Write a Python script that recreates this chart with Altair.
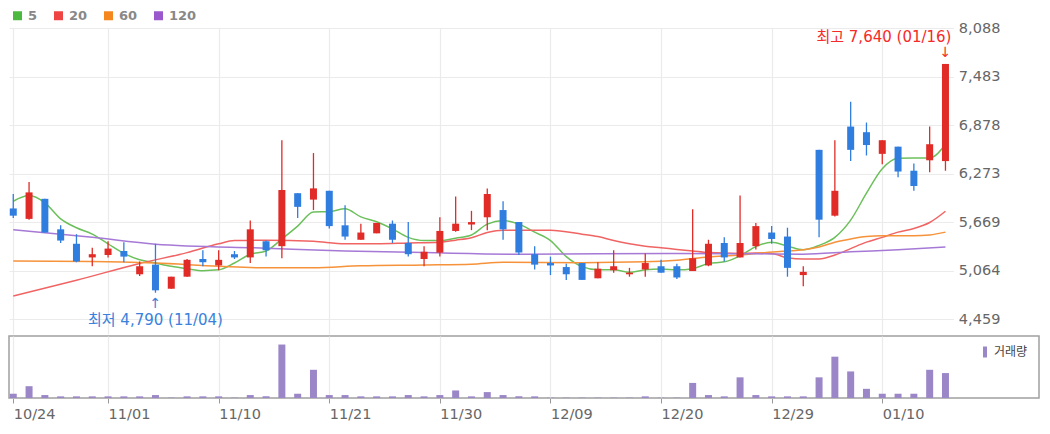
import json
import altair as alt
import pandas as pd

# ---------------- data ----------------
dates = ["10/24", "10/25", "10/26", "10/27", "10/28", "10/31",
         "11/01", "11/02", "11/03", "11/04", "11/07", "11/08", "11/09", "11/10", "11/11",
         "11/14", "11/15", "11/16", "11/17", "11/18", "11/21", "11/22", "11/23", "11/24",
         "11/25", "11/28", "11/29", "11/30",
         "12/01", "12/02", "12/05", "12/06", "12/07", "12/08", "12/09", "12/12", "12/13",
         "12/14", "12/15", "12/16", "12/19", "12/20", "12/21", "12/22", "12/23", "12/26",
         "12/27", "12/28", "12/29",
         "01/02", "01/03", "01/04", "01/05", "01/06", "01/09", "01/10", "01/11", "01/12",
         "01/13", "01/16"]

opens = [5840, 5710, 5960, 5580, 5400, 5230, 5260, 5310, 5020, 5140,
         4840, 4990, 5210, 5130, 5270, 5230, 5430, 5370, 6030, 5950,
         6060, 5630, 5450, 5530, 5650, 5410, 5210, 5290, 5560, 5640,
         5730, 5820, 5670, 5270, 5160, 5110, 5160, 4970, 5070, 5020,
         5080, 5120, 5120, 5060, 5130, 5410, 5230, 5370, 5540, 5490,
         5010, 6570, 5750, 6860, 6790, 6520, 6610, 6310, 6440, 6430]
highs = [6020, 6170, 5960, 5630, 5520, 5350, 5430, 5420, 5180, 5400,
         4990, 5210, 5320, 5320, 5310, 5690, 5440, 6690, 6030, 6530,
         6060, 5880, 5650, 5660, 5690, 5670, 5370, 5730, 5990, 5810,
         6090, 5930, 5670, 5370, 5240, 5150, 5160, 5170, 5320, 5100,
         5280, 5200, 5150, 5830, 5450, 5480, 6000, 5660, 5620, 5600,
         5120, 6570, 6690, 7170, 6910, 6690, 6610, 6400, 6860, 7640]
lows = [5720, 5700, 5540, 5410, 5170, 5120, 5230, 5170, 5000, 4790,
        4840, 4990, 5120, 5070, 5210, 5160, 5240, 5220, 5720, 5820,
        5590, 5450, 5450, 5530, 5410, 5240, 5120, 5240, 5550, 5570,
        5570, 5450, 5260, 5080, 5010, 4950, 4950, 4970, 5040, 4990,
        4990, 5040, 4960, 5060, 5120, 5180, 5230, 5330, 5400, 4990,
        4870, 5480, 5740, 6430, 6500, 6390, 6230, 6060, 6290, 6310]
closes = [5750, 6040, 5540, 5440, 5180, 5270, 5340, 5240, 5120, 4820,
          4990, 5200, 5170, 5200, 5230, 5580, 5320, 6070, 5860, 6090,
          5620, 5490, 5540, 5660, 5450, 5270, 5300, 5560, 5650, 5670,
          6020, 5580, 5290, 5140, 5130, 5020, 4950, 5090, 5120, 5040,
          5160, 5040, 4980, 5220, 5400, 5230, 5410, 5620, 5460, 5100,
          5050, 5700, 6060, 6570, 6630, 6690, 6300, 6120, 6640, 7640]
volumes = [13, 36, 9, 5, 5, 5, 5, 5, 5, 9,
           1, 5, 5, 5, 1, 9, 5, 163, 13, 86,
           9, 9, 5, 5, 5, 9, 5, 9, 23, 5,
           18, 9, 5, 5, 1, 1, 1, 1, 1, 1,
           5, 1, 1, 46, 9, 5, 63, 9, 5, 5,
           5, 63, 126, 81, 28, 13, 13, 13, 86, 76]

ma5 = [5930, 6000, 5910, 5710, 5600, 5520, 5400, 5280, 5200, 5160,
       5120, 5090, 5065, 5075, 5160, 5270, 5310, 5460, 5620, 5795,
       5800, 5835, 5735, 5675, 5585, 5480, 5440, 5440, 5470, 5510,
       5645, 5690, 5645, 5545, 5440, 5240, 5115, 5075, 5075, 5045,
       5075, 5085, 5075, 5090, 5155, 5175, 5250, 5365, 5420, 5370,
       5325, 5380, 5480, 5695, 6030, 6335, 6465, 6470, 6470, 6640]
ma20_idx = [0, 4, 8, 11, 13, 14, 16, 19, 21, 23, 25, 27, 28, 29, 30, 31, 34, 36, 37, 38,
            39, 40, 41, 42, 43, 44, 46, 47, 48, 49, 50, 51, 52, 53, 54, 55, 56, 57, 58, 59]
ma20_val = [4750, 4945, 5155, 5290, 5400, 5440, 5445, 5430, 5400, 5400,
            5410, 5420, 5445, 5475, 5540, 5570, 5570, 5520, 5490, 5440,
            5400, 5370, 5350, 5330, 5310, 5290, 5280, 5285, 5280, 5225,
            5210, 5210, 5260, 5340, 5420, 5480, 5545, 5590, 5665, 5805]
ma60_idx = [0, 5, 9, 13, 16, 19, 22, 26, 29, 31, 36, 40, 42, 44, 46, 47, 49, 50, 51, 52,
            53, 54, 55, 57, 58, 59]
ma60_val = [5185, 5180, 5160, 5120, 5100, 5100, 5125, 5135, 5145, 5170,
            5165, 5175, 5195, 5235, 5260, 5280, 5310, 5325, 5360, 5420,
            5460, 5490, 5500, 5500, 5510, 5545]
ma120_idx = [0, 5, 9, 16, 21, 26, 32, 42, 47, 50, 53, 56, 59]
ma120_val = [5575, 5480, 5395, 5345, 5310, 5290, 5270, 5280, 5275, 5270, 5300, 5325, 5360]

ma_names = ["5", "20", "60", "120"]
tick_idx = [0, 6, 13, 20, 27, 34, 41, 48, 55]
price_ticks = [4459, 5064, 5669, 6273, 6878, 7483, 8088]
vol_label = "거래량"

# ---------------- styling ----------------
RED = "#e02b27"
BLUE = "#2f7ddf"
LINE_COLORS = ["#6cc05c", "#f06464", "#f6923a", "#a679d6"]
KEY_COLORS = ["#4db83f", "#ee4444", "#f5871f", "#9b57cc"]
VOL_COLOR = "#9b87c8"
GRID = "#ebebeb"
NUM_FONT = "DejaVu Sans"
KR_FONT = "DejaVu Sans, Noto Sans CJK KR"

PX = 15.8
n = len(dates)
X_LO = -0.27
X_HI = n - 0.5
main_w = (X_HI - X_LO) * PX
vol_w = 1030
main_h = 306
vol_h = 62
price_dom = [4276, 8088]

# ---------------- frames ----------------
df = pd.DataFrame({"idx": list(range(n)), "date": dates, "open": opens, "high": highs,
                   "low": lows, "close": closes, "volume": volumes})
df["vl"] = vol_label

ma_rows = []
for i, v in enumerate(ma5):
    ma_rows.append({"idx": i, "value": v, "key": "5"})
for idxs, vals, name in [(ma20_idx, ma20_val, "20"), (ma60_idx, ma60_val, "60"),
                         (ma120_idx, ma120_val, "120")]:
    for i, v in zip(idxs, vals):
        ma_rows.append({"idx": i, "value": v, "key": name})
ma_df = pd.DataFrame(ma_rows)
ma_df["line"] = "MA" + ma_df["key"]
line_names = ["MA" + m for m in ma_names]

ih = int(pd.Series(highs).idxmax())
il = int(pd.Series(lows).idxmin())
hi_df = pd.DataFrame({"idx": [ih], "high": [highs[ih]],
                      "label": [f"최고 {highs[ih]:,} ({dates[ih]})"]})
lo_df = pd.DataFrame({"idx": [il], "low": [lows[il]],
                      "label": [f"최저 {lows[il]:,} ({dates[il]})"]})

# ---------------- encodings ----------------
x_main = alt.X("idx:Q",
               scale=alt.Scale(domain=[X_LO, X_HI], nice=False, zero=False, padding=0),
               axis=alt.Axis(values=tick_idx, labels=False, ticks=False, domain=False,
                             grid=True, gridColor=GRID, gridWidth=1.2, title=None))
y_scale = alt.Scale(domain=price_dom, nice=False, zero=False, padding=0)
y_axis = alt.Axis(orient="right", values=price_ticks, labelExpr="format(datum.value, ',')",
                  title=None, domain=False, ticks=False, grid=True, gridColor=GRID,
                  gridWidth=1.2, labelFont=NUM_FONT, labelFontSize=14.5,
                  labelColor="#666", labelPadding=5)


def ym(field):
    return alt.Y(f"{field}:Q", scale=y_scale, axis=y_axis)


up = alt.condition("datum.close >= datum.open", alt.value(RED), alt.value(BLUE))

lines = alt.Chart(ma_df).mark_line(strokeWidth=1.5, interpolate="monotone").encode(
    x=x_main, y=ym("value"),
    stroke=alt.Stroke("line:N", scale=alt.Scale(domain=line_names, range=LINE_COLORS),
                      legend=None),
)

# invisible layer that only carries the moving-average key (filled squares)
key = alt.Chart(ma_df).mark_square(filled=True, size=1).encode(
    x=x_main, y=ym("value"),
    color=alt.Color("key:N", scale=alt.Scale(domain=ma_names, range=KEY_COLORS),
                    legend=alt.Legend(orient="none", legendX=2, legendY=-19,
                                      direction="horizontal", title=None,
                                      symbolType="square", symbolSize=81,
                                      symbolOpacity=1, symbolStrokeWidth=0,
                                      labelFont=NUM_FONT, labelFontWeight="bold",
                                      labelFontSize=13, labelColor="#888",
                                      labelOffset=4, columnPadding=14, padding=0)),
    opacity=alt.value(0),
)

wicks = alt.Chart(df).mark_rule(strokeWidth=1.3).encode(
    x=x_main, y=ym("low"), y2="high:Q", color=up)
bodies = alt.Chart(df).mark_bar(size=7).encode(
    x=x_main, y=ym("open"), y2="close:Q", color=up)

hi_text = alt.Chart(hi_df).mark_text(align="right", baseline="middle", dx=6, dy=-27,
                                     font=KR_FONT, fontSize=15, color="#f52a2a").encode(
    x=x_main, y=ym("high"), text="label:N")
hi_arrow = alt.Chart(hi_df).mark_text(text="↓", baseline="middle", dy=-11,
                                      font=NUM_FONT, fontSize=14, color="#f52a2a").encode(
    x=x_main, y=ym("high"))
lo_text = alt.Chart(lo_df).mark_text(align="center", baseline="middle", dy=27,
                                     font=KR_FONT, fontSize=15, color="#3a82dc").encode(
    x=x_main, y=ym("low"), text="label:N")
lo_arrow = alt.Chart(lo_df).mark_text(text="↑", baseline="middle", dy=11,
                                      font=NUM_FONT, fontSize=14, color="#3a82dc").encode(
    x=x_main, y=ym("low"))

main = alt.layer(lines, key, wicks, bodies, hi_text, hi_arrow, lo_text, lo_arrow).properties(
    width=main_w, height=main_h)

label_expr = json.dumps(dates) + "[datum.value]"
vol = alt.Chart(df).mark_bar(size=7).encode(
    x=alt.X("idx:Q",
            scale=alt.Scale(domain=[X_LO, X_LO + vol_w / PX], nice=False, zero=False,
                            padding=0),
            axis=alt.Axis(values=tick_idx, labelExpr=label_expr, title=None, domain=False,
                          ticks=True, tickSize=5, tickColor="#999", grid=True,
                          gridColor=GRID, gridWidth=1.2, labelAlign="left",
                          labelFlush=False, labelOverlap=False, labelFont=NUM_FONT,
                          labelFontSize=14.5, labelColor="#666", labelPadding=4)),
    y=alt.Y("volume:Q", scale=alt.Scale(domain=[0, 189], nice=False, padding=0), axis=None),
    color=alt.Color("vl:N", scale=alt.Scale(domain=[vol_label], range=[VOL_COLOR]),
                    legend=alt.Legend(orient="none", legendX=vol_w - 60, legendY=10,
                                      title=None, symbolType="M-0.36,-1H0.36V1H-0.36Z",
                                      symbolSize=121, symbolStrokeWidth=0,
                                      labelFont="Noto Sans CJK KR", labelFontSize=12,
                                      labelColor="#444", labelOffset=3, padding=0)),
).properties(width=vol_w, height=vol_h,
             view=alt.ViewBackground(stroke="#a0a0a0", strokeWidth=1.5))

chart = alt.vconcat(main, vol, spacing=0).resolve_scale(
    x="independent", color="independent", stroke="independent"
).resolve_legend(color="independent").properties(
    padding={"left": 0, "top": 0, "right": 0, "bottom": 0},
    background="white",
).configure_view(stroke="transparent")

chart.save("out.html", embed_options={"renderer": "svg", "actions": False})
